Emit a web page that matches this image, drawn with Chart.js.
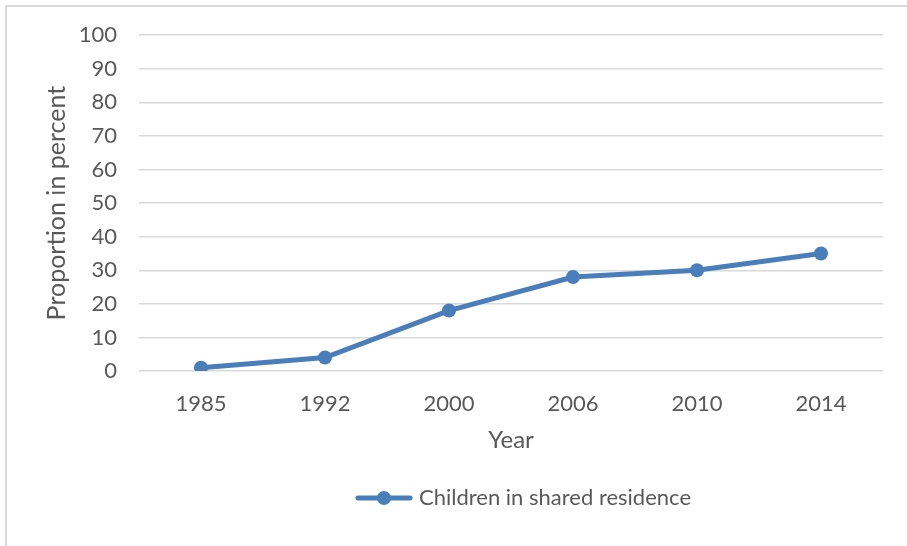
<!DOCTYPE html>
<html>
<head>
<meta charset="utf-8">
<script src="https://cdn.jsdelivr.net/npm/chart.js@4/dist/chart.umd.min.js"></script>
<style>
  html, body { margin:0; padding:0; background:#fff; }
  #wrap { position:relative; width:907px; height:546px; overflow:hidden; }
  #frame { position:absolute; left:5px; top:5px; width:920px; height:560px;
           border-top:2px solid #d9d9d9; border-left:2px solid #d9d9d9; }
  canvas { position:absolute; left:0; top:0; }
</style>
</head>
<body>
<div id="wrap">
  <div id="frame"></div>
  <canvas id="chart" width="907" height="546"></canvas>
</div>
<script>
// Data
const years = ['1985', '1992', '2000', '2006', '2010', '2014'];
const shared = [1, 4, 18, 28, 30, 35];
const seriesName = 'Children in shared residence';
const yTicks = [0, 10, 20, 30, 40, 50, 60, 70, 80, 90, 100];

const blue = '#4a7ebb';
const textGrey = '#595959';
const font = 'Lato, "Open Sans", sans-serif';

// Legend marker: line with a dot, like Excel
function legendMarker(){
  const c = document.createElement('canvas');
  c.width = 58; c.height = 18;
  const g = c.getContext('2d');
  g.strokeStyle = blue; g.lineWidth = 5; g.lineCap = 'round';
  g.beginPath(); g.moveTo(3, 9); g.lineTo(55, 9); g.stroke();
  g.fillStyle = blue;
  g.beginPath(); g.arc(29, 9, 7, 0, Math.PI*2); g.fill();
  return c;
}
const marker = legendMarker();

// Excel centres the legend a little right of the canvas middle
const shiftLegend = {
  id:'shiftLegend',
  afterLayout(chart){
    const lg = chart.legend;
    if(lg){ lg.left += 64; lg.right += 64; }
  }
};

new Chart(document.getElementById('chart'), {
  type:'line',
  data:{
    labels: years,
    datasets:[{
      label: seriesName,
      data: shared,
      borderColor: blue,
      backgroundColor: blue,
      borderWidth: 5,
      pointRadius: 7,
      pointHoverRadius: 7,
      pointBackgroundColor: blue,
      pointBorderWidth: 0,
      tension: 0
    }]
  },
  options:{
    responsive:false,
    animation:false,
    layout:{ padding:{ left:40, right:24, top:34, bottom:27 } },
    scales:{
      x:{
        offset:true,
        grid:{ display:false, drawTicks:false },
        border:{ display:false },
        ticks:{ color:textGrey, font:{ family:font, size:22 }, padding:20, maxRotation:0 },
        title:{ display:true, text:'Year', color:textGrey, font:{ family:font, size:24 }, padding:{ top:0, bottom:0 } },
        afterFit: s => { s.height = 84; }
      },
      y:{
        min:0, max:100,
        afterBuildTicks: s => { s.ticks = yTicks.map(v => ({ value:v })); },
        grid:{ color:'#d9d9d9', lineWidth:1.5, drawTicks:false },
        border:{ display:false },
        ticks:{ color:textGrey, font:{ family:font, size:22 }, padding:22 },
        title:{ display:true, text:'Proportion in percent', color:textGrey, font:{ family:font, size:25 }, padding:{ top:2, bottom:0 } },
        afterFit: s => { s.width = 99; }
      }
    },
    plugins:{
      legend:{
        position:'bottom',
        labels:{
          color:textGrey,
          font:{ family:font, size:22 },
          usePointStyle:true,
          pointStyleWidth:48,
          padding:32,
          generateLabels: chart => chart.data.datasets.map((d, i) => ({
            text: d.label,
            fontColor: textGrey,
            pointStyle: marker,
            datasetIndex: i,
            hidden: false,
            lineWidth: 0
          }))
        }
      },
      tooltip:{ enabled:false }
    }
  },
  plugins:[shiftLegend]
});
</script>
</body>
</html>
